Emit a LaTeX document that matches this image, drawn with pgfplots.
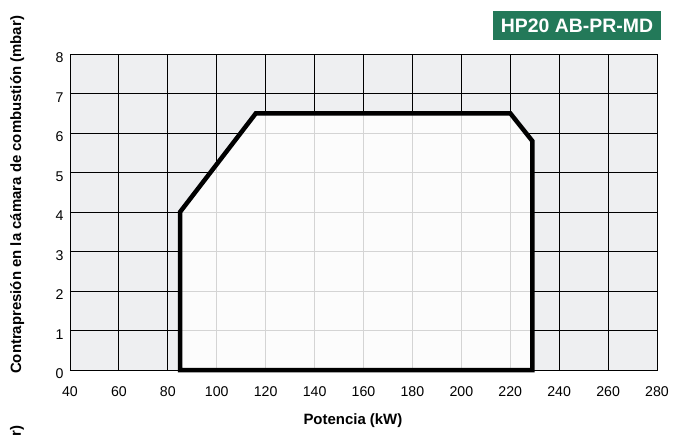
\documentclass[border=0pt]{standalone}
\usepackage{fontspec}
\setmainfont{Liberation Sans}
\usepackage{pgfplots}
\pgfplotsset{compat=1.18}
\definecolor{bggray}{RGB}{238,239,241}
\definecolor{titlegreen}{RGB}{35,121,89}
\begin{document}
\begin{tikzpicture}
\useasboundingbox (-70bp,-68bp) rectangle (603bp,370bp);
\begin{axis}[
  at={(0,0)}, anchor=south west,
  scale only axis, width=587bp, height=316bp,
  xmin=40, xmax=280, ymin=0, ymax=8,
  xtick={40,60,...,280}, ytick={0,1,...,8},
  grid=major, grid style={black, line width=0.9bp},
  axis line style={black, line width=0.9bp},
  major tick length=0pt,
  axis background/.style={fill=bggray},
  clip=false,
  /pgf/number format/assume math mode=true,
  tick label style={font=\fontsize{14.2}{16}\selectfont},
  xticklabel style={yshift=-13bp},
  yticklabel style={xshift=-3bp, yshift=-4bp},
  xlabel={Potencia (kW)},
  ylabel={Contrapresión en la cámara de combustión (mbar)},
  label style={font=\bfseries\fontsize{15}{17}\selectfont},
  xlabel style={at={(rel axis cs:0.482,-0.161)}, anchor=center},
  ylabel style={at={(rel axis cs:-0.090,0.554)}, anchor=center},
]
\addplot[draw=black, line width=4.5bp, line join=miter, fill=white, fill opacity=0.83, draw opacity=1]
  coordinates {(85,0) (85,4) (116,6.5) (220,6.5) (229,5.8) (229,0)} -- cycle;
\end{axis}
\node[fill=titlegreen, text=white, font=\bfseries\fontsize{19.5}{21}\selectfont,
      minimum width=168bp, minimum height=29bp, inner sep=0pt] at (507bp,344.5bp) {HP20 AB-PR-MD};
\node[rotate=90, font=\bfseries\fontsize{15}{17}\selectfont] at (-53bp,-61bp) {r)};
\end{tikzpicture}
\end{document}
